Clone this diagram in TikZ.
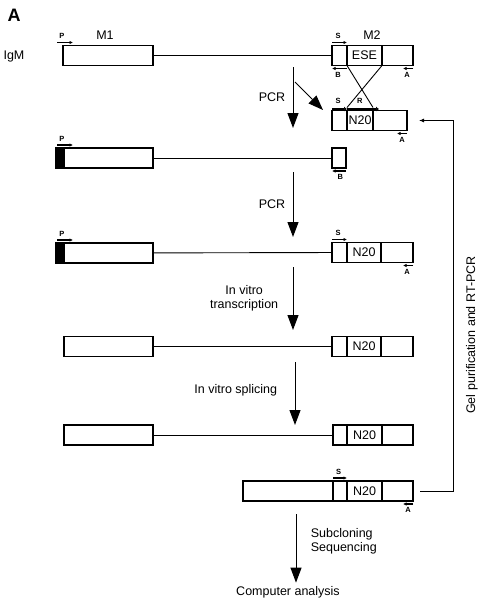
\documentclass[tikz,border=0pt]{standalone}
\usepackage{fontspec}
\setmainfont{Liberation Sans}
\usetikzlibrary{arrows.meta}
\usetikzlibrary{positioning}

\begin{document}
\begin{tikzpicture}[x=1pt, y=-1pt,
    font=\fontsize{12.5}{14}\selectfont,
    exon/.style={draw, rectangle, line width=1.1pt, minimum height=20pt,
      inner sep=0pt, outer sep=0pt},
    intron/.style={line width=0.9pt},
    flow/.style={-{Triangle[length=15pt,width=11pt]}, line width=1pt},
    primer/.style={-{Latex[length=3.5pt,width=3.5pt]}, line width=1.2pt},
    fused/.style={-{Latex[length=3pt,width=5pt]}, line width=2.4pt},
    tag/.style={font=\fontsize{7.5}{8}\selectfont\bfseries, inner sep=0pt}]
    \useasboundingbox (0,0) rectangle (483,600);

    % titles
    \node[font=\fontsize{18}{20}\selectfont\bfseries] (panel) at (14,15) {A};
    \node[anchor=west] (igm) at (0,56) {IgM};
    \node (m1lab) at (105,35) {M1};
    \node (m2lab) at (372,35) {M2};

    % IgM minigene
    \node[exon, minimum width=90pt, anchor=west] (m1) at (63,55.5) {};
    \node[exon, minimum width=15pt, anchor=west] (s1) at (332,55.5) {};
    \node[exon, minimum width=35pt, right=0pt of s1] (ese) {ESE};
    \node[exon, minimum width=31pt, right=0pt of ese] (e1) {};
    \draw[intron] (m1) -- (s1);
    \draw[primer] ([xshift=-6pt,yshift=3pt]m1.north west) -- ++(16,0)
      node[tag, pos=0.3, above=3pt] {P};
    \draw[primer] ([yshift=3pt]s1.north west) -- ([yshift=3pt]s1.north east)
      node[tag, pos=0.4, above=3pt] {S};
    \draw[primer] ([yshift=-3pt]s1.south east) -- ([yshift=-3pt]s1.south west)
      node[tag, pos=0.6, below=3pt] {B};
    \draw[primer] ([yshift=-3pt]e1.south east) -- ++(-10,0)
      node[tag, pos=0.6, below=3pt] {A};

    % mutagenic fragment
    \node[exon, minimum width=15pt, anchor=west] (s1b) at (332,120.5) {};
    \node[exon, minimum width=26pt, right=0pt of s1b] (n1b) {N20};
    \node[exon, minimum width=34pt, right=0pt of n1b] (e1b) {};
    \draw[intron] (ese.south west) -- ([yshift=3pt]n1b.north east);
    \draw[intron] (ese.south east) -- ([yshift=3pt]n1b.north west);
    \draw[fused] ([yshift=1.5pt]s1b.north west) -- ([yshift=1.5pt]s1b.north east)
      node[tag, pos=0.4, above=4pt] {S};
    \draw[fused] ([yshift=1.5pt]n1b.north west) -- ([xshift=6pt,yshift=1.5pt]n1b.north east)
      node[tag, pos=0.4, above=4pt] {R};
    \draw[primer] ([yshift=-3pt]e1b.south east) -- ++(-10,0)
      node[tag, pos=0.5, below=3pt] {A};

    \coordinate (f1a) at (293,67);
    \coordinate (f1b) at (293,128);
    \coordinate (d1a) at (295,82);
    \coordinate (d1b) at (323,110);
    \draw[flow] (f1a) -- (f1b) node[midway, left=4pt] {PCR};
    \draw[flow] (d1a) -- (d1b);

    % PCR product 1
    \node[exon, fill=black, minimum width=8pt, anchor=west] (k2) at (56,158) {};
    \node[exon, minimum width=89pt, right=0pt of k2] (m2) {};
    \node[exon, minimum width=14pt, anchor=west] (s2) at (332,158) {};
    \draw[intron] (m2) -- (s2);
    \draw[primer] ([xshift=1pt,yshift=3pt]k2.north west) -- ++(16,0)
      node[tag, pos=0.3, above=3pt] {P};
    \draw[primer] ([yshift=-3pt]s2.south east) -- ([yshift=-3pt]s2.south west)
      node[tag, pos=0.4, below=3pt] {B};

    \coordinate (f2a) at (293,172);
    \coordinate (f2b) at (293,237);
    \draw[flow] (f2a) -- (f2b) node[midway, left=4pt] {PCR};

    % PCR product 2
    \node[exon, fill=black, minimum width=8pt, anchor=west] (k3) at (56,253) {};
    \node[exon, minimum width=89pt, right=0pt of k3] (m3) {};
    \node[exon, minimum width=15pt, anchor=west] (s3) at (332,252.5) {};
    \node[exon, minimum width=34pt, right=0pt of s3] (n3) {N20};
    \node[exon, minimum width=32pt, right=0pt of n3] (e3) {};
    \draw[intron] (m3) -- (s3);
    \draw[primer] ([xshift=1pt,yshift=3pt]k3.north west) -- ++(16,0)
      node[tag, pos=0.3, above=3pt] {P};
    \draw[primer] ([yshift=3pt]s3.north west) -- ([yshift=3pt]s3.north east)
      node[tag, pos=0.4, above=3pt] {S};
    \draw[primer] ([yshift=-3pt]e3.south east) -- ++(-10,0)
      node[tag, pos=0.6, below=3pt] {A};

    \coordinate (f3a) at (293,267);
    \coordinate (f3b) at (293,330);
    \draw[flow] (f3a) -- (f3b)
      node[midway, left=11pt, align=center] {In vitro\\transcription};

    % pre-mRNA
    \node[exon, minimum width=89pt, anchor=west] (m4) at (64,346.5) {};
    \node[exon, minimum width=15pt, anchor=west] (s4) at (332,346.5) {};
    \node[exon, minimum width=34pt, right=0pt of s4] (n4) {N20};
    \node[exon, minimum width=32pt, right=0pt of n4] (e4) {};
    \draw[intron] (m4) -- (s4);

    \coordinate (f4a) at (295,362);
    \coordinate (f4b) at (295,425);
    \draw[flow] (f4a) -- (f4b) node[pos=0.45, left=14pt] {In vitro splicing};

    % unspliced
    \node[exon, minimum width=89pt, anchor=west] (m5) at (64,435) {};
    \node[exon, minimum width=14pt, anchor=west] (s5) at (333,435) {};
    \node[exon, minimum width=35pt, right=0pt of s5] (n5) {N20};
    \node[exon, minimum width=31pt, right=0pt of n5] (e5) {};
    \draw[intron] (m5) -- (s5);

    % spliced
    \node[exon, minimum width=90pt, anchor=west] (m6) at (243,491) {};
    \node[exon, minimum width=14pt, right=0pt of m6] (s6) {};
    \node[exon, minimum width=35pt, right=0pt of s6] (n6) {N20};
    \node[exon, minimum width=31pt, right=0pt of n6] (e6) {};
    \draw[primer] ([yshift=3pt]s6.north west) -- ([yshift=3pt]s6.north east)
      node[tag, pos=0.4, above=3pt] {S};
    \draw[primer] ([yshift=-3pt]e6.south east) -- ++(-10,0)
      node[tag, pos=0.5, below=3pt] {A};

    % back to the next round
    \draw[intron, -{Latex[length=5pt,width=4pt]}] ([xshift=7pt]e6.east) -- ++(33,0)
      |- ([xshift=12pt]e1b.east);
    \node[rotate=90] (gel) at (472,335) {Gel purification and RT-PCR};

    \coordinate (f5a) at (296,514);
    \node (comp) at (288,592) {Computer analysis};
    \draw[flow] (f5a) -- (f5a |- comp.north)
      node[pos=0.4, right=11pt, align=left] {Subcloning\\Sequencing};
\end{tikzpicture}
\end{document}
